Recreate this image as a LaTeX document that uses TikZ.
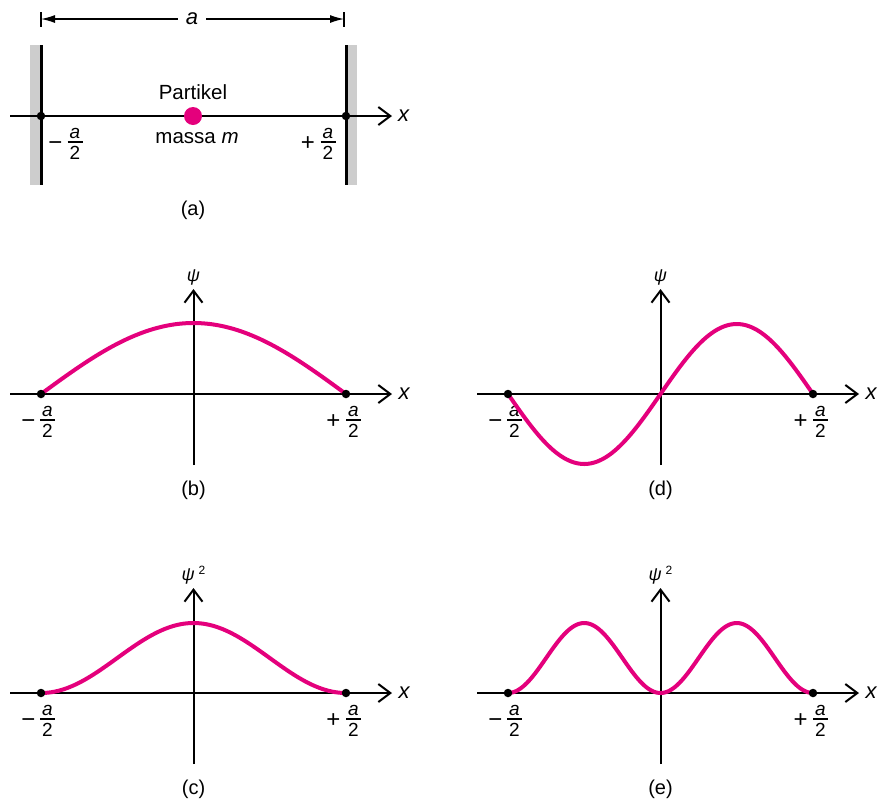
\documentclass[tikz,border=0pt]{standalone}
\usepackage{fontspec}
\setmainfont{Liberation Sans}
\usetikzlibrary{arrows.meta}
\definecolor{mag}{RGB}{228,0,124}
\definecolor{wallgray}{RGB}{205,205,205}
% half-width label: #1 name, #2 sign, #3 sign centre, #4 fraction-bar centre
\newcommand\halfa[4]{%
 \coordinate (#1c) at #4;
 \coordinate (#1sc) at #3;
 \node[signtxt, anchor=base] (#1s) at ([yshift=-8pt]#1sc) {#2};
 \node[frac, anchor=base] (#1a) at ([yshift=4pt]#1c) {\textit{a}};
 \node[frac, anchor=base] (#1t) at ([yshift=-17.5pt]#1c) {2};
 \draw[fracbar] ([xshift=-7.5pt]#1c) -- ([xshift=7.5pt]#1c);
}
\newcommand\drawpanel[4]{%
\begin{scope}[shift={#2}]
 \coordinate (#1L) at (-183.5,0);
 \coordinate (#1R) at (198.5,0);
 \coordinate (#1B) at (0,71);
 \coordinate (#1T) at (0,-105);
 \draw[axis] (#1L) -- (#1R);
 \draw[axis] (#1B) -- (#1T);
 \node[lbl] (#1x) at (211,0) {\textit{x}};
 \node[psitxt, anchor=base] (#1psi) at (0,-113) {#3};
 \halfa{#1m}{−}{(-165,26)}{(-146,26)}
 \halfa{#1p}{+}{(140,26)}{(160,26)}
 \node[captxt] (#1cap) at (0,96) {#4};
\end{scope}}
\begin{document}
\begin{tikzpicture}[x=1pt,y=-1pt,
  axis/.style={line width=2pt, -{Straight Barb[length=12pt,width=18pt]}},
  curve/.style={mag, line width=4pt},
  dot/.style={circle, fill=black, inner sep=0pt, minimum size=8.5pt},
  lbl/.style={font=\fontsize{22}{24}\selectfont, inner sep=0pt},
  psitxt/.style={font=\fontsize{18}{20}\selectfont, inner sep=0pt},
  frac/.style={font=\fontsize{19}{21}\selectfont, inner sep=0pt},
  signtxt/.style={font=\fontsize{24}{26}\selectfont, inner sep=0pt},
  fracbar/.style={line width=1.4pt},
  captxt/.style={font=\fontsize{20}{22}\selectfont, inner sep=0pt},
  txt/.style={font=\fontsize{20.5}{23}\selectfont, inner sep=0pt},
  wall/.style={line width=3pt},
  dim/.style={line width=1.3pt}]
\useasboundingbox (0,0) rectangle (888,801);
% ---------- panel (a)
\fill[wallgray] (30,45) rectangle (40,185);
\fill[wallgray] (347,45) rectangle (357,185);
\coordinate (wlt) at (41,45); \coordinate (wlb) at (41,185);
\coordinate (wrt) at (346,45); \coordinate (wrb) at (346,185);
\draw[wall] (wlt) -- (wlb);
\draw[wall] (wrt) -- (wrb);
\coordinate (aL) at (10,116); \coordinate (aR) at (392,116);
\draw[axis] (aL) -- (aR);
\node[dot] (ad1) at (41,116) {};
\node[dot] (ad2) at (346,116) {};
\node[circle, fill=mag, inner sep=0pt, minimum size=18pt] (part) at (193,116) {};
\node[txt] (partlbl) at (193,92) {Partikel};
\node[txt] (masslbl) at (197,138) {massa \textit{m}};
\halfa{am}{−}{(55.5,142)}{(75,142)}
\halfa{ap}{+}{(308,142)}{(328,142)}
\node[lbl] (ax) at (404,116) {\textit{x}};
\node[captxt] (acap) at (193,210) {(a)};
% dimension
\coordinate (t1a) at (41,12); \coordinate (t1b) at (41,27);
\coordinate (t2a) at (344,12); \coordinate (t2b) at (344,27);
\draw[dim] (t1a) -- (t1b);
\draw[dim] (t2a) -- (t2b);
\node[lbl, inner xsep=8pt] (alab) at (192,19) {\textit{a}};
\coordinate (dl) at (41,19); \coordinate (dr) at (344,19);
\draw[dim, -{Latex[length=14pt,width=8pt]}] (alab.west) -- (dl);
\draw[dim, -{Latex[length=14pt,width=8pt]}] (alab.east) -- (dr);
% ---------- panel (b)
\drawpanel{b}{(193.5,394)}{\textit{ψ}}{(b)}
\begin{scope}[shift={(193.5,394)}]
\draw[curve] plot[domain=-152.5:152.5, samples=101, smooth] (\x, {-71*cos(\x*0.590164)});
\node[dot] (bd1) at (-152.5,0) {};
\node[dot] (bd2) at (152.5,0) {};
\end{scope}
% ---------- panel (d)
\drawpanel{d}{(660.5,394)}{\textit{ψ}}{(d)}
\begin{scope}[shift={(660.5,394)}]
\draw[curve] plot[domain=-152.5:152.5, samples=121, smooth] (\x, {-70*sin(\x*1.180328)});
\node[dot] (dd1) at (-152.5,0) {};
\node[dot] (dd2) at (152.5,0) {};
\end{scope}
% ---------- panel (c)
\drawpanel{c}{(193.5,693)}{\textit{ψ}\hspace{4pt}\raisebox{6pt}{\fontsize{12}{12}\selectfont 2}}{(c)}
\begin{scope}[shift={(193.5,693)}]
\draw[curve] plot[domain=-152.5:152.5, samples=121, smooth] (\x, {-70*cos(\x*0.590164)^2});
\node[dot] (cd1) at (-152.5,0) {};
\node[dot] (cd2) at (152.5,0) {};
\end{scope}
% ---------- panel (e)
\drawpanel{e}{(660.5,693)}{\textit{ψ}\hspace{4pt}\raisebox{6pt}{\fontsize{12}{12}\selectfont 2}}{(e)}
\begin{scope}[shift={(660.5,693)}]
\draw[curve] plot[domain=-152.5:152.5, samples=161, smooth] (\x, {-70*sin(\x*1.180328)^2});
\node[dot] (ed1) at (-152.5,0) {};
\node[dot] (ed2) at (152.5,0) {};
\end{scope}
\end{tikzpicture}
\end{document}
